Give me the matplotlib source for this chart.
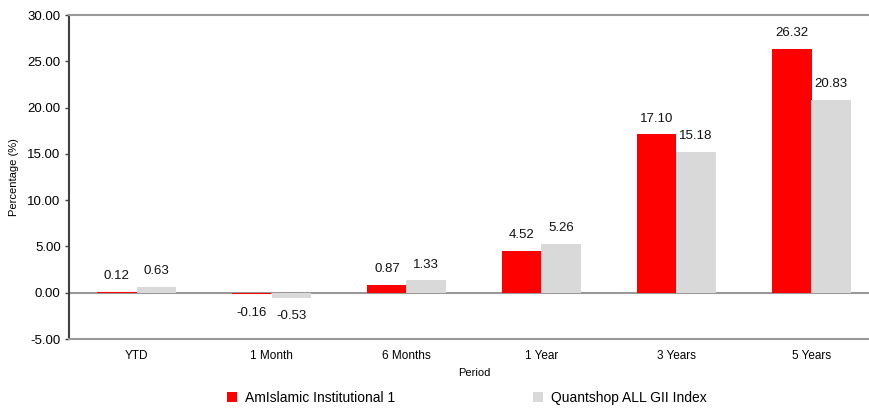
import matplotlib.pyplot as plt
import numpy as np

plt.rcParams['font.family'] = ['Liberation Sans', 'DejaVu Sans']

periods = ["YTD", "1 Month", "6 Months", "1 Year", "3 Years", "5 Years"]
fund = [0.12, -0.16, 0.87, 4.52, 17.10, 26.32]
index = [0.63, -0.53, 1.33, 5.26, 15.18, 20.83]
fund_name = "AmIslamic Institutional 1"
index_name = "Quantshop ALL GII Index"
yticks = [-5, 0, 5, 10, 15, 20, 25, 30]

W, H = 869, 408
fig = plt.figure(figsize=(W / 100, H / 100), dpi=100)
left, right, top, bottom = 69, 879, 15, 339
ax = fig.add_axes([left / W, 1 - bottom / H, (right - left) / W, (bottom - top) / H])

x = np.arange(len(periods))
bw = 0.29
b1 = ax.bar(x - bw / 2, fund, bw, color="#ff0000", label=fund_name, zorder=2)
b2 = ax.bar(x + bw / 2, index, bw, color="#d9d9d9", label=index_name, zorder=2)

for bars, vals in ((b1, fund), (b2, index)):
    for r, v in zip(bars, vals):
        cx = r.get_x() + r.get_width() / 2
        if v >= 0:
            ax.annotate(f"{v:.2f}", (cx, v), xytext=(0, 7), textcoords="offset points",
                        ha="center", va="bottom", fontsize=9.5, color="#111111")
        else:
            ax.annotate(f"{v:.2f}", (cx, v), xytext=(0, -9), textcoords="offset points",
                        ha="center", va="top", fontsize=9.5, color="#111111")

ax.set_xlim(-0.5, len(periods) - 0.5)
ax.set_ylim(-5, 30)
ax.set_yticks(yticks)
ax.set_yticklabels([f"{t:.2f}" for t in yticks], fontsize=9.5)
ax.set_xticks(x)
ax.set_xticklabels(periods, fontsize=8.5)
ax.tick_params(axis="x", length=0, pad=8)
ax.tick_params(axis="y", length=3, width=1, color="#404040", pad=3)
ax.axhline(0, color="#999999", lw=1.5, zorder=1)

ax.spines["left"].set_color("#404040")
ax.spines["left"].set_linewidth(1.5)
ax.spines["right"].set_visible(False)
for s in ("top", "bottom"):
    ax.spines[s].set_color("#999999")
    ax.spines[s].set_linewidth(1.5)

ax.set_ylabel("Percentage (%)", fontsize=8)
ax.yaxis.set_label_coords(-50 / (right - left), 0.5)
ax.set_xlabel("Period", fontsize=8, labelpad=4)

fig.legend(handles=[b1, b2], loc="center", bbox_to_anchor=(467 / W, 1 - 398 / H),
           ncol=2, frameon=False, fontsize=10, handlelength=0.7, handleheight=0.7,
           columnspacing=9.9, handletextpad=0.6)

fig.savefig("out.png", dpi=100)
